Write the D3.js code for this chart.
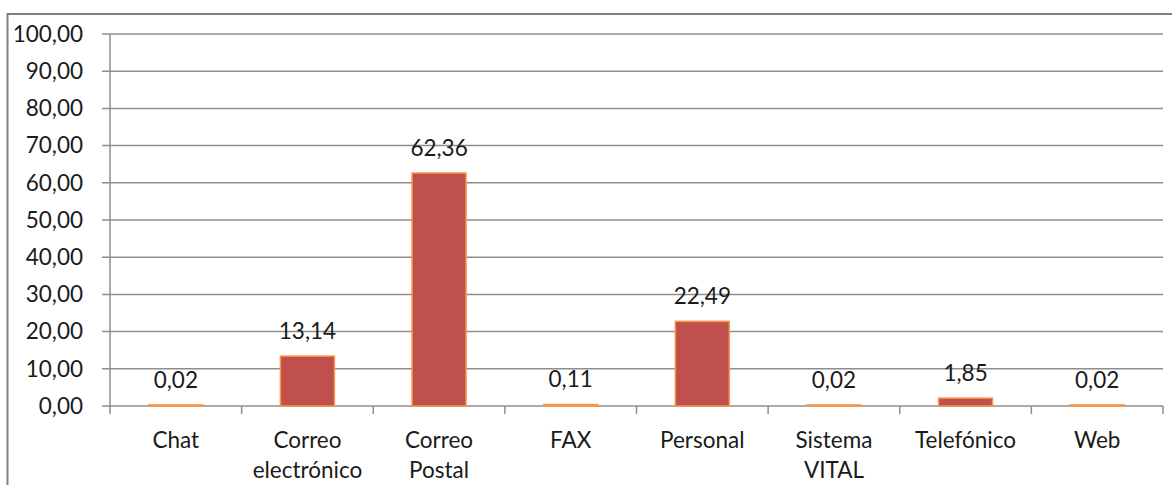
<!DOCTYPE html>
<html>
<head>
<meta charset="utf-8">
<script src="https://cdn.jsdelivr.net/npm/d3@7/dist/d3.min.js"></script>
<style>
    body { margin: 0; background: #fff; }
    svg { display: block; }
</style>
</head>
<body>
<svg id="chart" width="1172" height="485"></svg>
<script>

// categories and values
const categories = ["Chat", "Correo\nelectrónico", "Correo\nPostal", "FAX", "Personal", "Sistema\nVITAL", "Telefónico", "Web"];
const values = [0.02, 13.14, 62.36, 0.11, 22.49, 0.02, 1.85, 0.02];
const yTicks = [0, 10, 20, 30, 40, 50, 60, 70, 80, 90, 100];

const svg = d3.select("#chart");

const margin = {left: 110, right: 1163, top: 34, bottom: 406};
const fontFamily = "Lato, 'Open Sans', sans-serif";
const fontSize = 22.5;

// format numbers with comma decimal
const fmt = v => d3.format(".2f")(v).replace(".", ",");

const x = d3.scaleBand()
    .domain(d3.range(categories.length))
    .range([margin.left, margin.right])
    .paddingInner(0.59)
    .paddingOuter(0.295);

const xTick = d3.scaleLinear()
    .domain([0, categories.length])
    .range([margin.left, margin.right]);

const y = d3.scaleLinear()
    .domain([0, 100])
    .range([margin.bottom, margin.top]);

// outer frame
svg.append("rect")
    .attr("x", 7.5)
    .attr("y", 14)
    .attr("width", 1200)
    .attr("height", 500)
    .attr("fill", "none")
    .attr("stroke", "#808080")
    .attr("stroke-width", 2);

// gridlines
svg.append("g")
    .selectAll("line")
    .data(yTicks)
    .join("line")
    .attr("x1", margin.left - 8)
    .attr("x2", margin.right)
    .attr("y1", d => y(d))
    .attr("y2", d => y(d))
    .attr("stroke", "#8e8e8e")
    .attr("stroke-width", 1.5);

// y tick labels
svg.append("g")
    .attr("font-family", fontFamily)
    .attr("font-size", fontSize)
    .attr("fill", "#1a1a1a")
    .attr("text-anchor", "end")
    .selectAll("text")
    .data(yTicks)
    .join("text")
    .attr("x", 83)
    .attr("y", d => y(d))
    .attr("dy", "0.35em")
    .text(d => fmt(d));

// y axis line
svg.append("line")
    .attr("x1", margin.left)
    .attr("x2", margin.left)
    .attr("y1", margin.top)
    .attr("y2", margin.bottom)
    .attr("stroke", "#8e8e8e")
    .attr("stroke-width", 1.5);

// x axis ticks
svg.append("g")
    .selectAll("line")
    .data(d3.range(categories.length + 1))
    .join("line")
    .attr("x1", d => xTick(d))
    .attr("x2", d => xTick(d))
    .attr("y1", margin.bottom)
    .attr("y2", margin.bottom + 8)
    .attr("stroke", "#8e8e8e")
    .attr("stroke-width", 1.5);

// bars
svg.append("g")
    .selectAll("rect")
    .data(values)
    .join("rect")
    .attr("x", (d, i) => x(i))
    .attr("y", d => y(d) - 1)
    .attr("width", x.bandwidth())
    .attr("height", d => y(0) - y(d) + 1)
    .attr("fill", "#c0504d")
    .attr("stroke", "#f79646")
    .attr("stroke-width", 1.5);

// data labels
svg.append("g")
    .attr("font-family", fontFamily)
    .attr("font-size", fontSize)
    .attr("fill", "#1a1a1a")
    .attr("text-anchor", "middle")
    .selectAll("text")
    .data(values)
    .join("text")
    .attr("x", (d, i) => x(i) + x.bandwidth() / 2)
    .attr("y", d => y(d) - 26)
    .attr("dy", "0.35em")
    .text(d => fmt(d));

// category labels
const catLabels = svg.append("g")
    .attr("font-family", fontFamily)
    .attr("font-size", fontSize)
    .attr("fill", "#1a1a1a")
    .attr("text-anchor", "middle")
    .selectAll("text")
    .data(categories)
    .join("text")
    .attr("x", (d, i) => x(i) + x.bandwidth() / 2)
    .attr("y", 440)
    .attr("dy", "0.35em");

catLabels.selectAll("tspan")
    .data(d => d.split("\n"))
    .join("tspan")
    .attr("x", function () { return d3.select(this.parentNode).attr("x"); })
    .attr("dy", (d, i) => i === 0 ? "0.35em" : 30)
    .text(d => d);

</script>
</body>
</html>
